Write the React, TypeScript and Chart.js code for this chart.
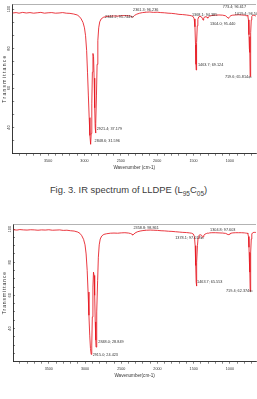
import React, { useEffect, useRef } from "react";
import { Chart, registerables } from "chart.js";
Chart.register(...registerables);

const FONT = "'Liberation Sans', Arial, Helvetica, sans-serif";
const TEXT = "#333333";
const RED = "rgb(230, 22, 32)";

// ---------- Spectrum 1: LLDPE (L95C05) ----------
const wn1 = [3990, 3940, 3900, 3850, 3800, 3750, 3700, 3650, 3600, 3550, 3500, 3450, 3400, 3350, 3300, 3250, 3200, 3150, 3100, 3070, 3045, 3020, 3000, 2985, 2970, 2958, 2946, 2935, 2925, 2915, 2907, 2899, 2891, 2883, 2875, 2867, 2859, 2852, 2848, 2842, 2835, 2826, 2816, 2804, 2790, 2770, 2740, 2700, 2650, 2600, 2550, 2500, 2450, 2400, 2370, 2350, 2340, 2330, 2310, 2280, 2240, 2200, 2150, 2100, 2050, 2000, 1950, 1900, 1850, 1800, 1750, 1700, 1650, 1600, 1560, 1530, 1505, 1490, 1480, 1472, 1466, 1463, 1460, 1455, 1448, 1440, 1428, 1410, 1390, 1377, 1368, 1360, 1345, 1325, 1312, 1304, 1296, 1280, 1250, 1200, 1150, 1100, 1060, 1040, 1025, 1012, 1000, 985, 960, 920, 880, 840, 800, 785, 773, 762, 752, 744, 737, 731, 727, 723, 720, 716, 711, 705, 698, 690, 680, 665, 650, 640];
const tr1 = [98.0, 98.2, 97.9, 98.3, 98.0, 98.2, 97.9, 98.1, 98.3, 97.9, 98.1, 98.2, 97.9, 98.0, 98.2, 97.9, 97.8, 97.5, 97.0, 96.2, 95.0, 93.2, 90.5, 86.5, 79, 68, 56, 45, 36, 31.5, 37, 52, 68, 77.5, 76, 65, 50, 40, 37.2, 42, 56, 72, 84, 90.5, 93.5, 95.0, 95.8, 96.2, 96.4, 96.5, 96.4, 96.6, 96.7, 96.6, 96.5, 96.1, 95.8, 96.1, 96.8, 97.4, 97.9, 98.2, 98.4, 98.5, 98.3, 98.4, 98.2, 98.1, 97.9, 97.8, 97.6, 97.3, 97.2, 97.0, 96.8, 96.6, 96.2, 95.0, 91, 82, 72, 69.1, 72, 83, 91.5, 94.8, 96.0, 96.3, 96.0, 95.2, 94.4, 95.4, 96.0, 96.1, 95.8, 95.4, 95.9, 96.4, 96.7, 96.9, 97.0, 96.9, 96.6, 96.0, 95.4, 95.6, 96.2, 96.7, 96.9, 97.0, 97.1, 97.0, 96.9, 96.7, 96.6, 96.8, 96.4, 94.5, 87, 80, 86, 78, 65.8, 72, 88, 94.5, 96.2, 96.7, 96.9, 96.8, 96.6, 96.4];

// ---------- Spectrum 2 ----------
const wn2 = wn1;
const tr2 = [99.6, 99.4, 99.7, 99.5, 99.4, 99.6, 99.5, 99.3, 99.5, 99.4, 99.6, 99.3, 99.4, 99.5, 99.2, 99.3, 99.0, 98.8, 98.2, 97.4, 96.0, 93.8, 90.5, 85, 75, 62, 48, 36, 28, 24.4, 30, 47, 65, 74, 72, 60, 44, 33, 28.8, 34, 50, 69, 83, 90.5, 94, 95.8, 96.8, 97.2, 97.5, 97.6, 97.5, 97.7, 97.8, 97.6, 97.3, 96.8, 96.4, 96.8, 97.6, 98.3, 98.8, 99.1, 99.3, 99.4, 99.3, 99.2, 99.0, 98.9, 98.7, 98.6, 98.4, 98.2, 98.0, 97.9, 97.7, 97.5, 97.0, 95.5, 90, 78, 68, 65.6, 69, 80, 90, 94.5, 96.2, 96.6, 96.2, 95.0, 95.4, 96.3, 96.9, 97.3, 97.5, 97.6, 97.5, 97.7, 97.8, 97.8, 97.7, 97.6, 97.4, 97.0, 96.6, 96.8, 97.2, 97.5, 97.7, 97.8, 97.8, 97.8, 97.7, 97.6, 97.5, 97.6, 97.2, 95.5, 89, 80, 86, 74, 62.4, 68, 86, 94, 97.0, 97.6, 97.9, 98.0, 98.0, 97.9];

// ---------- Axes ----------
const xTickValues = [3900, 3800, 3700, 3600, 3500, 3400, 3300, 3200, 3100, 3000, 2900, 2800, 2700, 2600, 2500, 2400, 2300, 2200, 2100, 2000, 1900, 1800, 1700, 1600, 1500, 1400, 1300, 1200, 1100, 1000, 900, 800, 700];
const xTickLabels = [3500, 3000, 2500, 2000, 1500, 1000];
const yTickLabels = [100, 80, 60, 40];
const yTicks1 = [100, 93.33, 86.67, 80, 73.33, 66.67, 60, 53.33, 46.67, 40, 33.33];
const yTicks2 = [100, 95, 90, 85, 80, 75, 70, 65, 60, 55, 50, 45, 40, 35, 30, 25];

// ---------- Peak annotations (anchor = start of text, in data units) ----------
const notes1Text = ["2921.4; 37.179", "2848.6; 31.596", "2344.2; 95.744", "2361.3; 96.236", "1368.1; 94.385", "1304.0; 95.440", "1463.7; 69.124", "773.4; 96.617", "1019.4; 96.503", "719.6; 65.814"];
const notes1W = [2831, 2861, 2717, 2332, 1521, 1274, 1439, 1096, 931, 1068];
const notes1T = [39.4, 33.2, 96.1, 99.4, 96.9, 92.6, 71.8, 101.3, 97.7, 65.5];
const notes1Arrow = [false, false, true, false, false, false, false, false, false, true];

const notes2Text = ["2358.8; 98.861", "1378.1; 97.013", "1304.8; 97.603", "1463.7; 65.553", "719.4; 62.374", "2848.0; 28.849", "2915.0; 24.423"];
const notes2W = [2332, 1755, 1274, 1453, 1054, 2817, 2895];
const notes2T = [100.4, 94.6, 99.4, 68.4, 62.6, 31.6, 24.0];
const notes2Arrow = [false, true, false, false, true, false, false];

type SpecProps = {
  wn: number[]; tr: number[]; yMin: number; yMax: number; yTicks: number[];
  notesText: string[]; notesW: number[]; notesT: number[]; notesArrow: boolean[];
  xTitle: string; top: number; height: number; padTop: number; axisW: number;
  titlePad: number; ySpacing: number;
};

function Spectrum(p: SpecProps) {
  const ref = useRef<HTMLCanvasElement>(null);
  useEffect(() => {
    const canvas = ref.current!;
    const decor = {
      id: "decor",
      afterDraw(chart: any) {
        const { ctx, chartArea, scales } = chart;
        const xs = scales.x, ys = scales.y;
        ctx.save();
        // top frame line
        ctx.strokeStyle = "#a0a0a0";
        ctx.lineWidth = 0.8;
        ctx.beginPath();
        ctx.moveTo(chartArea.left, chartArea.top + 0.4);
        ctx.lineTo(chartArea.right, chartArea.top + 0.4);
        ctx.stroke();
        // peak notes
        ctx.fillStyle = TEXT;
        ctx.strokeStyle = TEXT;
        ctx.lineWidth = 0.5;
        ctx.font = `3.8px ${FONT}`;
        ctx.textAlign = "left";
        ctx.textBaseline = "middle";
        p.notesText.forEach((t, i) => {
          const px = xs.getPixelForValue(p.notesW[i]);
          const py = ys.getPixelForValue(p.notesT[i]);
          ctx.fillText(t, px, py);
          if (p.notesArrow[i]) {
            const w = ctx.measureText(t).width;
            ctx.beginPath();
            ctx.moveTo(px + w + 0.5, py);
            ctx.lineTo(px + w + 3.5, py);
            ctx.moveTo(px + w + 0.5, py);
            ctx.lineTo(px + w + 1.5, py - 0.8);
            ctx.moveTo(px + w + 0.5, py);
            ctx.lineTo(px + w + 1.5, py + 0.8);
            ctx.stroke();
          }
        });
        // y title
        ctx.translate(5, (chartArea.top + chartArea.bottom) / 2);
        ctx.rotate(-Math.PI / 2);
        ctx.font = `5px ${FONT}`;
        (ctx as any).letterSpacing = `${p.ySpacing}px`;
        ctx.textAlign = "center";
        ctx.textBaseline = "middle";
        ctx.fillText("Transmittance", 0, 0);
        ctx.restore();
      },
    };
    const chart = new Chart(canvas, {
      type: "line",
      data: {
        datasets: [
          {
            data: p.wn.map((w, i) => ({ x: w, y: p.tr[i] })),
            borderColor: RED,
            borderWidth: 0.85,
            pointRadius: 0,
            fill: false,
            tension: 0,
          },
        ],
      },
      options: {
        responsive: false,
        animation: false,
        layout: { padding: { top: p.padTop, right: 1, left: 0, bottom: 0 } },
        plugins: { legend: { display: false }, tooltip: { enabled: false } },
        scales: {
          x: {
            type: "linear",
            reverse: true,
            min: 640,
            max: 3990,
            afterBuildTicks: (s: any) => {
              s.ticks = xTickValues.map((v) => ({ value: v }));
            },
            afterFit: (s: any) => {
              s.height = 20;
            },
            ticks: {
              autoSkip: false,
              maxRotation: 0,
              minRotation: 0,
              padding: 2.8,
              color: TEXT,
              font: { size: 3.7, family: FONT },
              callback: (v: any) => (xTickLabels.includes(Number(v)) ? String(v) : ""),
            },
            grid: { drawOnChartArea: false, drawTicks: true, tickLength: 2.7, color: "#333", lineWidth: 0.6 },
            border: { display: true, color: "#222", width: 0.9 },
            title: {
              display: true,
              text: p.xTitle,
              color: TEXT,
              font: { size: 4.6, family: FONT },
              padding: { top: 0, bottom: p.titlePad },
            },
          },
          y: {
            type: "linear",
            min: p.yMin,
            max: p.yMax,
            afterBuildTicks: (s: any) => {
              s.ticks = p.yTicks.map((v) => ({ value: v }));
            },
            afterFit: (s: any) => {
              s.width = p.axisW;
            },
            ticks: {
              autoSkip: false,
              minRotation: 90,
              maxRotation: 90,
              crossAlign: "center",
              padding: 1.7,
              color: TEXT,
              font: { size: 4, family: FONT },
              callback: (v: any) => (yTickLabels.includes(Math.round(Number(v) * 100) / 100) ? String(v) : ""),
            },
            grid: { drawOnChartArea: false, drawTicks: true, tickLength: -1.7, color: "#333", lineWidth: 0.6 },
            border: { display: true, color: "#222", width: 0.9 },
          },
        },
      } as any,
      plugins: [decor],
    });
    return () => chart.destroy();
  }, []);
  return (
    <canvas
      ref={ref}
      width={257}
      height={p.height}
      style={{ position: "absolute", left: 0, top: p.top, width: 257, height: p.height }}
    />
  );
}

export default function App() {
  return (
    <div style={{ position: "absolute", left: 0, top: 0, width: 257, height: 399, background: "#fff", overflow: "hidden" }}>
      <Spectrum
        wn={wn1} tr={tr1} yMin={27.1} yMax={102.5} yTicks={yTicks1}
        notesText={notes1Text} notesW={notes1W} notesT={notes1T} notesArrow={notes1Arrow}
        xTitle="Wavenumber (cm-1)" top={0} height={173} padTop={1.5} axisW={12.5}
        titlePad={2.2} ySpacing={1.3}
      />
      <div
        style={{
          position: "absolute", left: 0, top: 184, width: 257, textAlign: "center",
          fontFamily: FONT, fontSize: 9.4, fontWeight: 400, lineHeight: "12px", color: "#3c3c3c",
        }}
      >
        Fig. 3. IR spectrum of LLDPE (L<sub style={{ fontSize: 6.5 }}>95</sub>C<sub style={{ fontSize: 6.5 }}>05</sub>)
      </div>
      <Spectrum
        wn={wn2} tr={tr2} yMin={20.4} yMax={103} yTicks={yTicks2}
        notesText={notes2Text} notesW={notes2W} notesT={notes2T} notesArrow={notes2Arrow}
        xTitle="Wavenumber(cm-1)" top={220} height={161} padTop={3.3} axisW={13.3}
        titlePad={2.7} ySpacing={0.9}
      />
    </div>
  );
}
